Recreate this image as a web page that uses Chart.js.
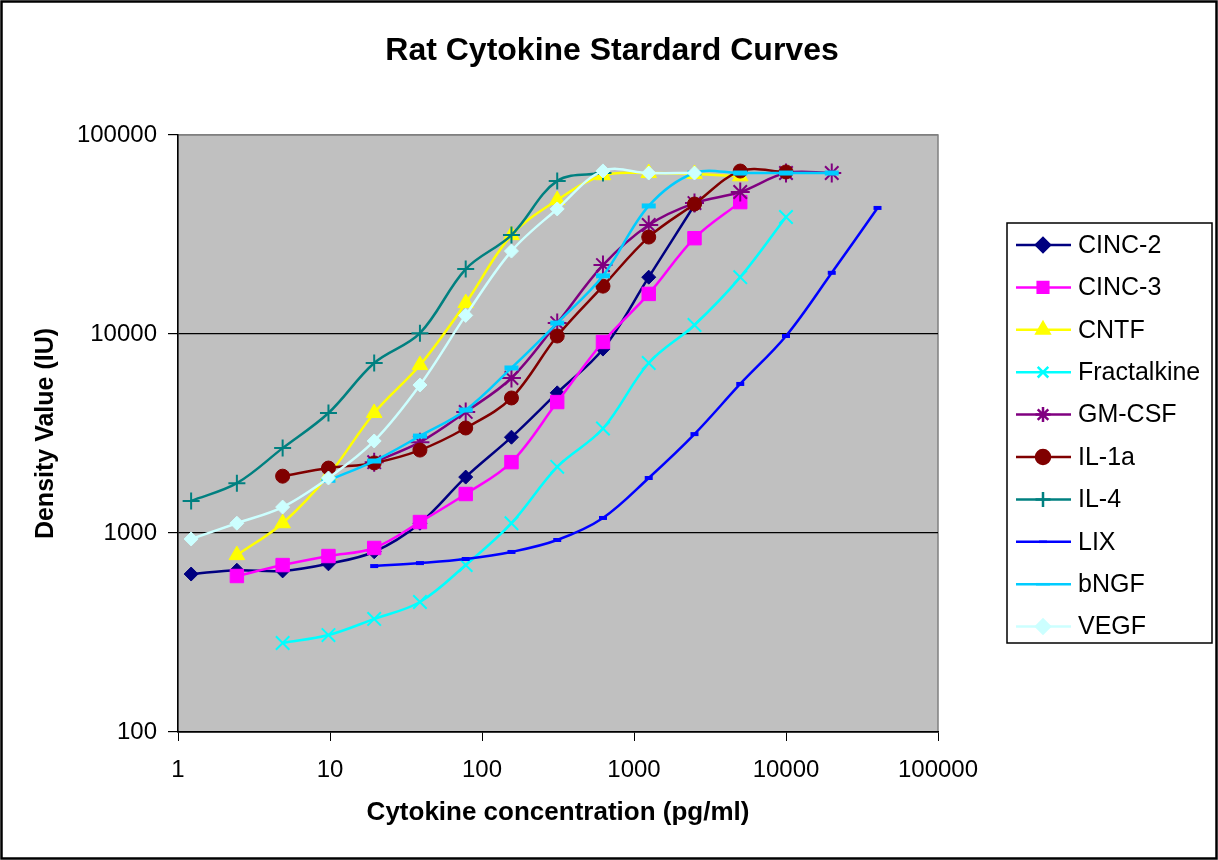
<!DOCTYPE html>
<html lang="en">
<head>
  <meta charset="UTF-8">
  <title>Rat Cytokine Stardard Curves</title>
  <script src="https://cdn.jsdelivr.net/npm/chart.js"></script>
  <style>
    body { margin: 0; background: #fff; }
    canvas { display: block; }
  </style>
</head>
<body>
  <canvas id="curves" width="1218" height="860"></canvas>
  <script>
    // 2-fold dilution series (pg/ml)
    const conc = [1.22, 2.44, 4.88, 9.77, 19.53, 39.06, 78.13, 156.25, 312.5, 625, 1250, 2500, 5000, 10000, 20000, 40000];

    const cinc2 = [622, 650, 645, 700, 805, 1120, 1910, 3030, 5060, 8400, 19300, 44500];
    const cinc3 = [null, 608, 690, 766, 841, 1135, 1570, 2270, 4550, 9120, 15900, 30300, 46000];
    const cntf = [null, 774, 1120, 1950, 4010, 6980, 14300, 31400, 47100, 62800, 64400, 63700, 62000];
    const fractalkine = [null, null, 280, 307, 370, 450, 690, 1120, 2150, 3350, 7150, 11100, 19300, 38700];
    const gmcsf = [null, null, null, null, 2270, 2860, 4060, 6010, 11350, 22200, 35300, 45500, 51700, 64400, 64400];
    const il1a = [null, null, 1930, 2120, 2250, 2610, 3370, 4770, 9770, 17400, 30700, 45000, 65900, 65200];
    const il4 = [1450, 1780, 2670, 4010, 7150, 10100, 21200, 31400, 58800, 64400];
    const lix = [null, null, null, null, 682, 706, 740, 803, 922, 1190, 1890, 3140, 5610, 9770, 20300, 43000];
    const bngf = [null, null, null, 1840, 2300, 3070, 4150, 6750, 11350, 19600, 44000, 64400, 64400, 64400, 64400];
    const vegf = [933, 1120, 1350, 1890, 2900, 5540, 12400, 26100, 42500, 66000, 64400, 64400];

    const xTicks = [1, 10, 100, 1000, 10000, 100000];
    const yTicks = [100, 1000, 10000, 100000];

    const series = [
      { label: 'CINC-2', values: cinc2, color: '#000080', style: 'rectRot', r: 7, bw: 1 },
      { label: 'CINC-3', values: cinc3, color: '#FF00FF', style: 'rect', r: 9.5, bw: 1 },
      { label: 'CNTF', values: cntf, color: '#FFFF00', style: 'triangle', r: 9, bw: 1 },
      { label: 'Fractalkine', values: fractalkine, color: '#00FFFF', style: 'crossRot', r: 9.5, bw: 2 },
      { label: 'GM-CSF', values: gmcsf, color: '#800080', style: 'star', r: 9.5, bw: 2 },
      { label: 'IL-1a', values: il1a, color: '#800000', style: 'circle', r: 7, bw: 1 },
      { label: 'IL-4', values: il4, color: '#008080', style: 'cross', r: 8.5, bw: 2 },
      { label: 'LIX', values: lix, color: '#0000FF', style: 'line', r: 4, bw: 4 },
      { label: 'bNGF', values: bngf, color: '#00CCFF', style: 'line', r: 7, bw: 5 },
      { label: 'VEGF', values: vegf, color: '#CCFFFF', style: 'rectRot', r: 7, bw: 1 }
    ];

    const FONT = "'Liberation Sans', Arial, sans-serif";

    const datasets = series.map((s, i) => ({
      label: s.label,
      data: s.values.map((v, k) => ({ x: conc[k], y: v })),
      showLine: true,
      borderColor: s.color,
      backgroundColor: s.color,
      borderWidth: 2.5,
      tension: 0.35,
      pointStyle: s.style,
      pointRadius: s.r,
      pointHoverRadius: s.r,
      pointBorderWidth: s.bw,
      order: series.length - i
    }));

    // plot background, outer frame, title and boxed legend
    const excelLook = {
      id: 'excelLook',
      beforeDraw(chart) {
        const { ctx, chartArea: a } = chart;
        ctx.save();
        ctx.fillStyle = '#fff';
        ctx.fillRect(0, 0, chart.width, chart.height);
        ctx.strokeStyle = '#000';
        ctx.lineWidth = 2.5;
        ctx.strokeRect(1.5, 1.5, chart.width - 3, chart.height - 3);
        ctx.fillStyle = '#C0C0C0';
        ctx.fillRect(a.left, a.top, a.right - a.left, a.bottom - a.top);
        ctx.strokeStyle = '#808080';
        ctx.lineWidth = 1.5;
        ctx.strokeRect(a.left, a.top, a.right - a.left, a.bottom - a.top);
        ctx.restore();
      },
      afterDraw(chart) {
        const ctx = chart.ctx;
        ctx.save();
        ctx.fillStyle = '#000';
        ctx.font = 'bold 32px ' + FONT;
        ctx.textAlign = 'center';
        ctx.textBaseline = 'middle';
        ctx.fillText('Rat Cytokine Stardard Curves', 612, 51);

        ctx.strokeStyle = '#000';
        ctx.lineWidth = 1.5;
        ctx.strokeRect(1007, 223, 205, 420);
        ctx.font = '25px ' + FONT;
        ctx.textAlign = 'left';
        chart.data.datasets.forEach((ds, i) => {
          const y = 245 + i * 42.4;
          ctx.strokeStyle = ds.borderColor;
          ctx.fillStyle = ds.backgroundColor;
          ctx.lineWidth = 2.5;
          ctx.beginPath();
          ctx.moveTo(1016, y);
          ctx.lineTo(1071, y);
          ctx.stroke();
          Chart.helpers.drawPoint(ctx, {
            pointStyle: ds.pointStyle,
            radius: Math.min(ds.pointRadius, 7.5),
            rotation: 0,
            borderWidth: ds.pointBorderWidth
          }, 1043, y);
          ctx.fillStyle = '#000';
          ctx.fillText(ds.label, 1078, y + 1);
        });
        ctx.restore();
      }
    };

    new Chart(document.getElementById('curves'), {
      type: 'scatter',
      data: { datasets: datasets },
      options: {
        responsive: false,
        animation: false,
        devicePixelRatio: 1,
        layout: { padding: { left: 0, top: 135, right: 280, bottom: 0 } },
        plugins: {
          legend: { display: false },
          tooltip: { enabled: false },
          title: { display: false }
        },
        scales: {
          x: {
            type: 'logarithmic',
            min: 1,
            max: 100000,
            afterBuildTicks: s => { s.ticks = xTicks.map(v => ({ value: v })); },
            afterFit: s => { s.height = 128; },
            grid: { drawOnChartArea: false, color: '#000', tickColor: '#000', tickLength: 9 },
            border: { color: '#000', width: 1.5 },
            ticks: {
              autoSkip: false,
              maxRotation: 0,
              padding: 15,
              color: '#000',
              font: { family: FONT, size: 24 },
              callback: v => String(v)
            },
            title: {
              display: true,
              text: 'Cytokine concentration (pg/ml)',
              color: '#000',
              font: { family: FONT, size: 26, weight: 'bold' },
              padding: { top: 0, bottom: 32 }
            }
          },
          y: {
            type: 'logarithmic',
            min: 100,
            max: 100000,
            afterBuildTicks: s => { s.ticks = yTicks.map(v => ({ value: v })); },
            afterFit: s => { s.width = 178; },
            grid: {
              color: c => (c.tick && c.tick.value === 100000 ? '#808080' : '#000'),
              tickColor: '#000',
              tickLength: 10,
              lineWidth: 1.2
            },
            border: { color: '#000', width: 1.5 },
            ticks: {
              padding: 11,
              color: '#000',
              font: { family: FONT, size: 24 },
              callback: v => String(v)
            },
            title: {
              display: true,
              text: 'Density Value (IU)',
              color: '#000',
              font: { family: FONT, size: 25, weight: 'bold' },
              padding: { top: 31, bottom: 0 }
            }
          }
        }
      },
      plugins: [excelLook]
    });
  </script>
</body>
</html>
